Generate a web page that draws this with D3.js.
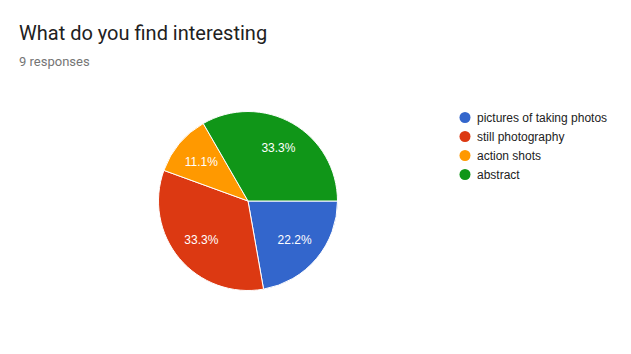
<!DOCTYPE html>
<html>
<head>
<meta charset="utf-8">
<script src="https://cdn.jsdelivr.net/npm/d3@7"></script>
<style>
  body { margin: 0; background: #fff; }
  svg { display: block; }
</style>
</head>
<body>
<script>
// data
var categories = ['pictures of taking photos', 'still photography', 'action shots', 'abstract'];
var counts     = [2, 3, 1, 3];
var colors     = ['#3366cc', '#dc3912', '#ff9900', '#109618'];

// init
var width  = 631,
    height = 354,
    cx     = 248,
    cy     = 201,
    radius = 89.5;

var svg = d3.select('body')
    .append('svg')
    .attr('width', width)
    .attr('height', height);

// title
svg.append('text')
    .attr('x', 19)
    .attr('y', 40)
    .attr('font-family', 'Roboto')
    .attr('font-size', 20)
    .attr('fill', '#212121')
    .text('What do you find interesting');

svg.append('text')
    .attr('x', 19)
    .attr('y', 66)
    .attr('font-family', 'Roboto')
    .attr('font-size', 13)
    .attr('fill', '#757575')
    .text(d3.sum(counts) + ' responses');

// pie
var total = d3.sum(counts);
var pie = d3.pie()
    .sort(null)
    .startAngle(Math.PI / 2)
    .endAngle(Math.PI / 2 + 2 * Math.PI);

var arc = d3.arc().innerRadius(0).outerRadius(radius);
var labelArc = d3.arc().innerRadius(radius * 0.68).outerRadius(radius * 0.68);

var g = svg.append('g')
    .attr('transform', 'translate(' + cx + ',' + cy + ')');

var arcs = pie(counts);

g.selectAll('path')
    .data(arcs)
    .join('path')
    .attr('d', arc)
    .attr('fill', function (d, i) { return colors[i]; })
    .attr('stroke', '#fff')
    .attr('stroke-width', 1);

g.selectAll('text')
    .data(arcs)
    .join('text')
    .attr('transform', function (d) { return 'translate(' + labelArc.centroid(d) + ')'; })
    .attr('text-anchor', 'middle')
    .attr('dy', '0.35em')
    .attr('font-family', 'Arial, Liberation Sans')
    .attr('font-size', 12)
    .attr('fill', '#fff')
    .text(function (d) { return (d.data / total * 100).toFixed(1) + '%'; });

// legend
var legendY = d3.scaleBand()
    .domain(categories)
    .range([108, 184]);

var legend = svg.append('g')
    .selectAll('g')
    .data(categories)
    .join('g')
    .attr('transform', function (d) {
        return 'translate(465,' + (legendY(d) + legendY.bandwidth() / 2) + ')';
    });

legend.append('circle')
    .attr('r', 5.5)
    .attr('fill', function (d, i) { return colors[i]; });

legend.append('text')
    .attr('x', 12)
    .attr('dy', '0.35em')
    .attr('font-family', 'Arial, Liberation Sans')
    .attr('font-size', 12)
    .attr('fill', '#222')
    .text(function (d) { return d; });
</script>
</body>
</html>
